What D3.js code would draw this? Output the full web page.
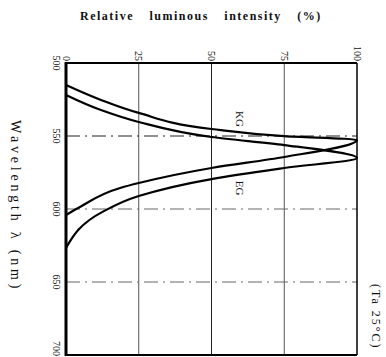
<!DOCTYPE html>
<html>
<head>
<meta charset="utf-8">
<script src="https://cdn.jsdelivr.net/npm/d3@7/dist/d3.min.js"></script>
<style>
  html, body { margin: 0; padding: 0; background: #fff; }
  svg { display: block; }
  text { font-family: "Liberation Serif", "DejaVu Serif", serif; fill: #111; }
</style>
</head>
<body>
<script>
// Axis ticks
const intensityTicks = [0, 25, 50, 75, 100];
const wavelengthTicks = [500, 550, 600, 650, 700];

// KG spectrum: wavelength (nm) and relative intensity (%)
const kgWavelength = [515.1, 525.3, 534.2, 545.2, 550.1, 552.7, 564.4, 571.9, 582.2, 585.6, 598.6, 604.1];
const kgIntensity  = [0,     12,    25,    50,    75,    100,   75,    50,    25,    18.6,  4.8,   0];

// EG spectrum
const egWavelength = [521.9, 532.2, 540.4, 550.7, 556.2, 565.1, 571.9, 579.5, 591.1, 601.8, 626.7];
const egIntensity  = [0,     12,    25,    50,    75,    100,   75,    50,    25,    12.7,  0];

const W = 386, H = 357;
const plot = { left: 66, top: 63, right: 357, bottom: 355 };

const svg = d3.select("body").append("svg").attr("width", W).attr("height", H);

const x = d3.scaleLinear().domain([0, 100]).range([plot.left, plot.right]);
const y = d3.scaleLinear().domain([500, 700]).range([plot.top, plot.bottom]);

// Grid lines
svg.append("g").selectAll("line")
  .data(intensityTicks.slice(1, -1))
  .join("line")
  .attr("x1", d => x(d)).attr("x2", d => x(d))
  .attr("y1", plot.top).attr("y2", plot.bottom)
  .attr("stroke", d => d === 50 ? "#222" : "#555")
  .attr("stroke-width", 1);

svg.append("g").selectAll("line")
  .data(wavelengthTicks.slice(1, -1))
  .join("line")
  .attr("x1", plot.left).attr("x2", plot.right)
  .attr("y1", d => y(d)).attr("y2", d => y(d))
  .attr("stroke", d => d === 550 ? "#222" : "#666")
  .attr("stroke-width", 1)
  .attr("stroke-dasharray", "14,5,2,5");

// Spectral curves
const line = d3.line()
  .x(d => x(d[1]))
  .y(d => y(d[0]))
  .curve(d3.curveMonotoneY);

const series = [
  { name: "KG", pts: d3.zip(kgWavelength, kgIntensity) },
  { name: "EG", pts: d3.zip(egWavelength, egIntensity) }
];

svg.append("g").selectAll("path")
  .data(series)
  .join("path")
  .attr("d", d => line(d.pts))
  .attr("fill", "none")
  .attr("stroke", "#000")
  .attr("stroke-width", 2.2);

// Frame
const frame = svg.append("g").attr("stroke", "#000").attr("fill", "none");
frame.append("line").attr("x1", plot.left).attr("x2", plot.left).attr("y1", plot.top - 1).attr("y2", plot.bottom + 1).attr("stroke-width", 3);
frame.append("line").attr("x1", plot.left).attr("x2", plot.right).attr("y1", plot.top).attr("y2", plot.top).attr("stroke-width", 2);
frame.append("line").attr("x1", plot.right).attr("x2", plot.right).attr("y1", plot.top).attr("y2", plot.bottom).attr("stroke-width", 1.5);
frame.append("line").attr("x1", plot.left).attr("x2", plot.right).attr("y1", plot.bottom).attr("y2", plot.bottom).attr("stroke-width", 2);

// Intensity tick labels along the top, rotated
svg.append("g").selectAll("text")
  .data(intensityTicks)
  .join("text")
  .attr("transform", d => `translate(${x(d)},${plot.top - 2}) rotate(90)`)
  .attr("text-anchor", "end")
  .attr("dominant-baseline", "central")
  .attr("font-size", 10)
  .text(d => d);

// Wavelength tick labels down the left side, rotated; the last one sits above its tick
svg.append("g").selectAll("text")
  .data(wavelengthTicks)
  .join("text")
  .attr("transform", (d, i) => `translate(${plot.left - 10},${i === wavelengthTicks.length - 1 ? y(d) + 1 : y(d)}) rotate(90)`)
  .attr("text-anchor", (d, i) => i === wavelengthTicks.length - 1 ? "end" : "middle")
  .attr("dominant-baseline", "central")
  .attr("font-size", 10)
  .text(d => d);

// Title
svg.append("text")
  .attr("x", 80).attr("y", 20)
  .attr("text-anchor", "start")
  .attr("font-size", 12)
  .attr("font-weight", "bold")
  .attr("letter-spacing", 1.5)
  .attr("word-spacing", 11)
  .text("Relative luminous intensity (%)");

// Wavelength axis title
svg.append("text")
  .attr("transform", "translate(15,120) rotate(90)")
  .attr("text-anchor", "start")
  .attr("dominant-baseline", "central")
  .attr("font-size", 14)
  .attr("letter-spacing", 3.8)
  .text("Wavelength λ (nm)");

// Curve labels
svg.append("g").selectAll("text")
  .data([{ t: "KG", cx: 240, cy: 119 }, { t: "EG", cx: 240, cy: 188 }])
  .join("text")
  .attr("transform", d => `translate(${d.cx},${d.cy}) rotate(90)`)
  .attr("text-anchor", "middle")
  .attr("dominant-baseline", "central")
  .attr("font-size", 11)
  .text(d => d.t);

// Measurement condition
svg.append("text")
  .attr("transform", "translate(376,284) rotate(90)")
  .attr("text-anchor", "start")
  .attr("dominant-baseline", "central")
  .attr("font-size", 12)
  .attr("letter-spacing", 2)
  .text("(Ta 25°C)");
</script>
</body>
</html>
